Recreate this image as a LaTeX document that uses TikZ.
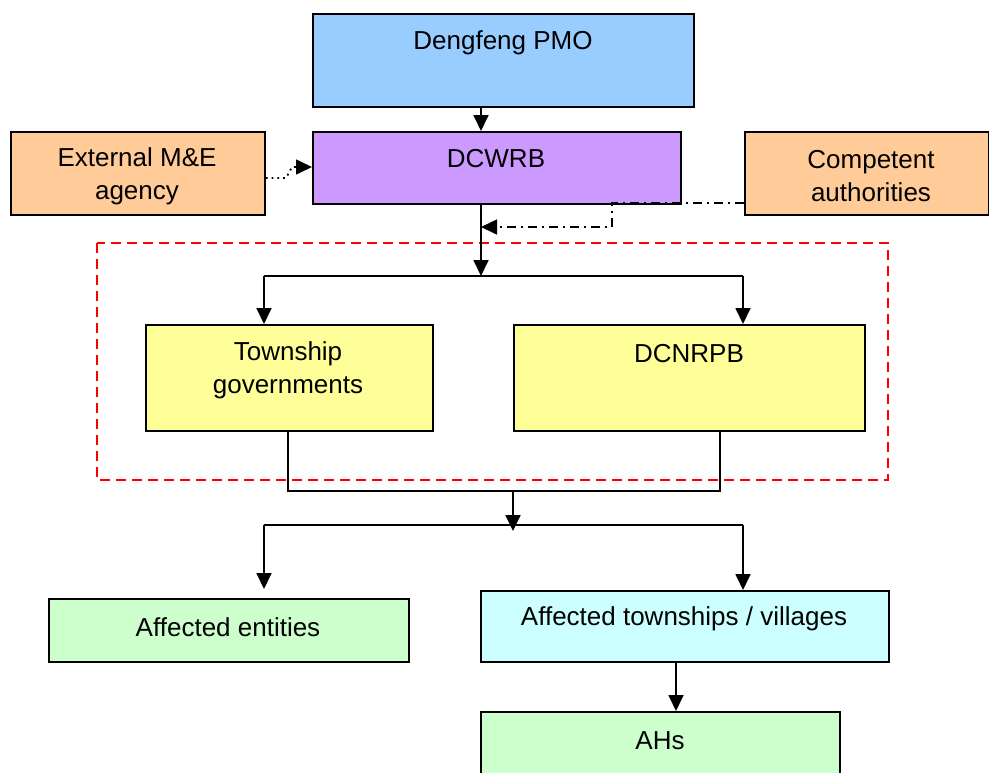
\documentclass[tikz,border=0pt]{standalone}
\usepackage{fontspec}
\setmainfont{Liberation Sans}
\usetikzlibrary{arrows.meta,calc}
\definecolor{cpmo}{HTML}{99CCFF}
\definecolor{cwrb}{HTML}{CC99FF}
\definecolor{corange}{HTML}{FFCC99}
\definecolor{cyellow}{HTML}{FFFF99}
\definecolor{cgreen}{HTML}{CCFFCC}
\definecolor{ccyan}{HTML}{CCFFFF}
\tikzset{
  box/.style={draw=black, line width=1.7pt, rectangle, inner sep=0pt, anchor=north west},
  lbl/.style={inner sep=0pt, align=center, font=\fontsize{26}{33}\selectfont},
  tip/.style={-{Triangle[length=16pt,width=15pt]}},
  arr/.style={line width=1.8pt, tip},
  ln/.style={line width=1.8pt},
  dotline/.style={line width=1.8pt, dash pattern=on 1.8pt off 4pt},
  dashdotline/.style={line width=1.6pt, dash pattern=on 9pt off 5pt on 2pt off 5pt},
  redbox/.style={draw=red, line width=1.6pt, dash pattern=on 10pt off 6pt}
}
\begin{document}
\begin{tikzpicture}[x=1pt,y=-1pt]
\clip (0,0) rectangle (989,772);
\fill[white] (0,0) rectangle (989,772);
% red dashed group
\draw[redbox] (97,243) rectangle (888,480);
% boxes
\node[box, fill=cpmo, minimum width=381pt, minimum height=93pt] (pmo) at (312,13) {};
\node[box, fill=cwrb, minimum width=368pt, minimum height=72pt] (wrb) at (312,131) {};
\node[box, fill=corange, minimum width=254pt, minimum height=83pt] (ext) at (10,131) {};
\node[box, fill=corange, minimum width=244pt, minimum height=83pt] (comp) at (744,131) {};
\node[box, fill=cyellow, minimum width=287pt, minimum height=106pt] (twp) at (145,324) {};
\node[box, fill=cyellow, minimum width=351pt, minimum height=106pt] (dcn) at (513,324) {};
\node[box, fill=cgreen, minimum width=360pt, minimum height=63pt] (ent) at (48,598) {};
\node[box, fill=ccyan, minimum width=408pt, minimum height=71pt] (vil) at (480,590) {};
\node[box, fill=cgreen, minimum width=359pt, minimum height=80pt] (ahs) at (480,711) {};
% labels
\node[lbl] (pmoT) at (503,43) {Dengfeng PMO};
\node[lbl] (wrbT) at (496,159) {DCWRB};
\node[lbl] (extT) at (137,176) {External M\&E\\agency};
\node[lbl] (compT) at (871,176) {Competent\\authorities};
\node[lbl] (twpT) at (288,370) {Township\\governments};
\node[lbl] (dcnT) at (689,354) {DCNRPB};
\node[lbl] (entT) at (228,627) {Affected entities};
\node[lbl] (vilT) at (684,619) {Affected townships / villages};
\node[lbl] (ahsT) at (660,741) {AHs};
% coordinates
\coordinate (jx) at (481,0);
\coordinate (s1) at (481,276);
\coordinate (s1L) at (264,276);
\coordinate (s1R) at (743,276);
\coordinate (m1) at (288,491);
\coordinate (m2) at (720,491);
\coordinate (mc) at (513,491);
\coordinate (mc2) at (513,531);
\coordinate (b1L) at (264,525);
\coordinate (b1R) at (743,525);
\coordinate (ahx) at (676,0);
\coordinate (d1) at (286,178);
\coordinate (d2) at (292,167);
\coordinate (c1) at (612,203);
\coordinate (c2) at (612,227);
% connectors
\draw[arr] (pmo.south -| jx) -- (wrb.north -| jx);
\draw[arr] (wrb.south -| jx) -- (s1);
\draw[ln] (s1L) -- (s1R);
\draw[arr] (s1L) -- (twp.north -| s1L);
\draw[arr] (s1R) -- (dcn.north -| s1R);
\draw[ln] (twp.south -| m1) -- (m1) -- (m2) -- (dcn.south -| m2);
\draw[arr] (mc) -- (mc2);
\draw[ln] (b1L) -- (b1R);
\draw[arr, shorten >=9pt] (b1L) -- (ent.north -| b1L);
\draw[arr] (b1R) -- (vil.north -| b1R);
\draw[arr] (vil.south -| ahx) -- (ahs.north -| ahx);
\draw[dotline] (ext.east |- d1) -- (d1) -- (d2) -- ($(wrb.west |- d2)+(-16,0)$);
\draw[tip, line width=1.6pt] ($(wrb.west |- d2)+(-2,0)$) -- (wrb.west |- d2);
\draw[dashdotline] (comp.west |- c1) -- (c1) -- (c2) -- ($(jx |- c2)+(16,0)$);
\draw[tip, line width=1.6pt] ($(jx |- c2)+(2,0)$) -- (jx |- c2);
\end{tikzpicture}
\end{document}
